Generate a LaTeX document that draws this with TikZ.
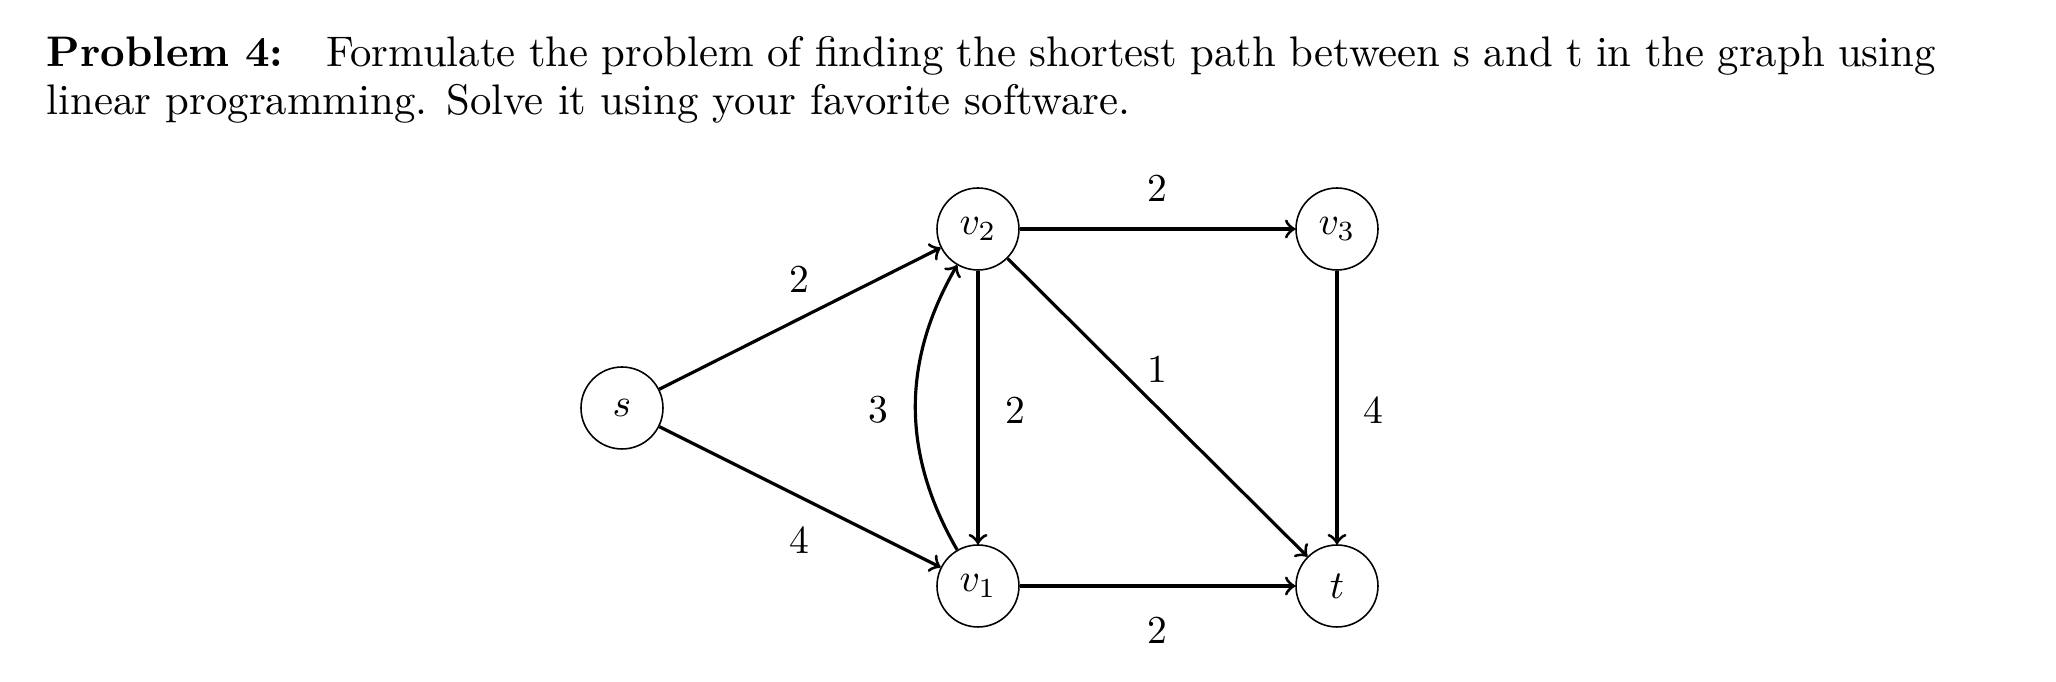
\documentclass[tikz,border=0pt]{standalone}
\begin{document}
\begin{tikzpicture}[x=0.2525pt,y=-0.2525pt,
  vtx/.style={circle,draw,line width=0.4pt,minimum size=20.7pt,inner sep=0pt},
  arc/.style={->,line width=0.8pt},
  wt/.style={inner sep=0pt}]
\useasboundingbox (0,0) rectangle (2056,682);
\node[anchor=north west,inner sep=0pt,text width=477pt,align=justify,font=\fontsize{10.8}{12}\selectfont] (txt) at (46,36)
{\textbf{Problem 4:}\quad Formulate the problem of finding the shortest path between s and t in the graph using linear programming. Solve it using your favorite software.};
\node[vtx] (s) at (622,408) {$s$};
\node[vtx] (v2) at (978,229) {$v_2$};
\node[vtx] (v3) at (1337,229) {$v_3$};
\node[vtx] (v1) at (978,586) {$v_1$};
\node[vtx] (t) at (1337,586) {$t$};
\draw[arc] (s) -- (v2);
\draw[arc] (s) -- (v1);
\draw[arc] (v2) -- (v3);
\draw[arc] (v2) -- (v1);
\draw[arc] (v2) -- (t);
\draw[arc] (v3) -- (t);
\draw[arc] (v1) -- (t);
\draw[arc] (v1) to[bend left=30] (v2);
\node[wt] (w1) at (799,279) {2};
\node[wt] (w2) at (799,540) {4};
\node[wt] (w3) at (878,410) {3};
\node[wt] (w4) at (1015,410) {2};
\node[wt] (w5) at (1157,188) {2};
\node[wt] (w6) at (1157,369) {1};
\node[wt] (w7) at (1373,410) {4};
\node[wt] (w8) at (1157,630) {2};
\end{tikzpicture}
\end{document}
